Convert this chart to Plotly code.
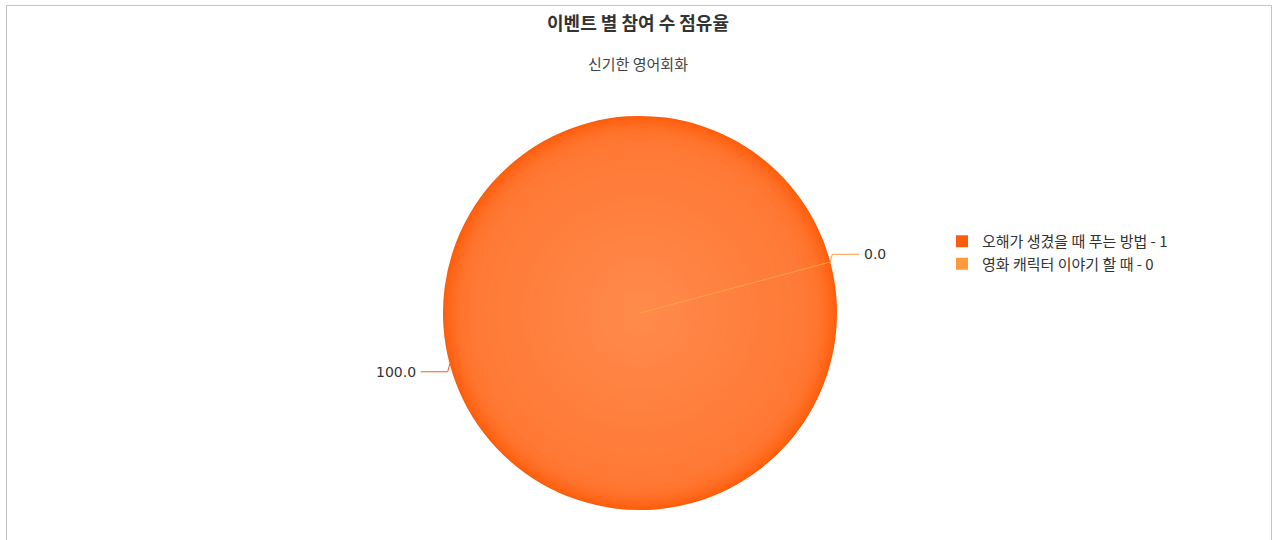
import math
import plotly.graph_objects as go

# ---------------- data ----------------
title_text = "이벤트 별 참여 수 점유율"
subtitle_text = "신기한 영어회화"
categories = ["오해가 생겼을 때 푸는 방법", "영화 캐릭터 이야기 할 때"]
counts = [1, 0]
slice_colors = ["#F95D0D", "#FF9A3C"]

# ---------------- geometry / style ----------------
W, H = 1276, 540
CX, CY, R = 640, 313, 197
START = 75          # first slice starts 75 deg clockwise from 12 o'clock
LABEL_DIST = 30

# radial shading ramp (fraction of radius -> rgb), used only for styling
ramp = [(0.00, (255, 140, 77)), (0.30, (255, 133, 69)), (0.60, (255, 126, 60)),
        (0.88, (255, 121, 53)), (0.93, (255, 114, 43)), (0.97, (255, 104, 27)),
        (1.00, (255, 94, 12))]


def ramp_color(f):
    for (f0, c0), (f1, c1) in zip(ramp[:-1], ramp[1:]):
        if f0 <= f <= f1:
            t = (f - f0) / (f1 - f0)
            c = [round(a + (b - a) * t) for a, b in zip(c0, c1)]
            return "rgb(%d,%d,%d)" % tuple(c)
    return "rgb(%d,%d,%d)" % ramp[-1][1]


fracs = [1.0 - 0.005 * k for k in range(20)]          # 1.00 .. 0.905
fracs += [0.9 - 0.03 * k for k in range(29)]          # 0.90 .. 0.06
layers = [(f, ramp_color(f)) for f in fracs]

total = sum(counts)
shares = [c / total * 100 for c in counts]
legend_labels = [f"{c} - {v}" for c, v in zip(categories, counts)]

fig = go.Figure()

# pixel-scaled hidden axes for annotations / connectors
fig.update_xaxes(range=[0, W], visible=False, fixedrange=True, domain=[0, 1])
fig.update_yaxes(range=[H, 0], visible=False, fixedrange=True, domain=[0, 1])

for i, (f, col) in enumerate(layers):
    r = f * R
    fig.add_trace(go.Pie(
        labels=legend_labels,
        values=counts,
        sort=False,
        direction="clockwise",
        rotation=START,
        marker=dict(colors=[col if i else slice_colors[0], slice_colors[1]],
                    line=dict(width=0)),
        textinfo="none",
        hovertemplate="%{label}<br>%{percent:.1%}<extra></extra>",
        domain=dict(x=[(CX - r) / W, (CX + r) / W],
                    y=[1 - (CY + r) / H, 1 - (CY - r) / H]),
        showlegend=(i == 0),
    ))

# data labels with elbow connectors
cum = 0
shapes = []
annotations = []
for v, s, col in zip(counts, shares, slice_colors):
    a = math.radians(START + (cum + v / 2) / total * 360)
    cum += v
    sx, cy_ = math.sin(a), math.cos(a)
    side = 1 if sx > 0 else -1
    ex, ey = CX + R * sx, CY - R * cy_
    lx, ly = CX + (R + LABEL_DIST) * sx, CY - (R + LABEL_DIST) * cy_
    fig.add_trace(go.Scatter(
        x=[ex, ex + side * 2, lx], y=[ey, ly, ly], mode="lines",
        line=dict(color=col, width=1), hoverinfo="skip", showlegend=False,
    ))
    annotations.append(dict(
        x=lx + side * 3, y=ly, xref="x", yref="y", showarrow=False,
        text=f"{s:.1f}", xanchor="left" if side > 0 else "right", yanchor="middle",
        font=dict(family="DejaVu Sans", size=14, color="#333333"),
    ))
    if v == 0:
        shapes.append(dict(type="line", xref="x", yref="y", layer="above",
                           x0=CX, y0=CY, x1=ex, y1=ey,
                           line=dict(color="#FFA045", width=1)))

# chart border
shapes.append(dict(type="rect", xref="x", yref="y", layer="below",
                   x0=6.5, x1=1271.5, y0=5.5, y1=H + 20,
                   line=dict(color="#C4C4C4", width=1), fillcolor="rgba(0,0,0,0)"))

annotations.append(dict(
    x=0.5, y=1 - 63 / H, xref="paper", yref="paper", showarrow=False,
    text=subtitle_text, xanchor="center", yanchor="middle",
    font=dict(family="Noto Sans CJK KR", size=15, color="#444444"),
))

fig.update_layout(
    width=W, height=H,
    margin=dict(l=0, r=0, t=0, b=0),
    paper_bgcolor="white", plot_bgcolor="white",
    title=dict(text=f"<b>{title_text}</b>", x=0.5, xanchor="center",
               y=1 - 24 / H, yanchor="middle", yref="container",
               font=dict(family="Noto Sans CJK KR", size=18, color="#333333")),
    legend=dict(x=942 / W, xanchor="left", y=1 - 225 / H, yanchor="top",
                traceorder="grouped", tracegroupgap=4,
                bgcolor="rgba(0,0,0,0)",
                font=dict(family="Noto Sans CJK KR", size=15, color="#333333")),
    shapes=shapes,
    annotations=annotations,
)

fig.write_html("out.html", config={"displayModeBar": False},
               post_script="document.body.style.margin='0';")
